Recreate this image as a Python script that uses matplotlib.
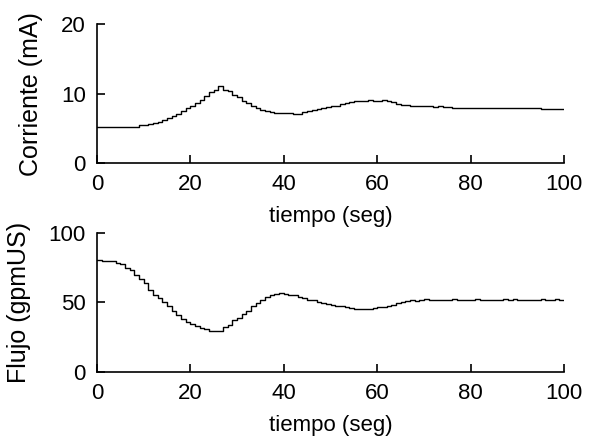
import numpy as np
import matplotlib
matplotlib.use('Agg')
from matplotlib import pyplot as plt

# tiempo en segundos, una muestra por segundo
tiempo = np.arange(0, 101)

corriente = [5.2, 5.2, 5.2, 5.2, 5.2, 5.2, 5.2, 5.2, 5.2, 5.5,
             5.5, 5.6, 5.8, 5.9, 6.2, 6.5, 6.8, 7.1, 7.5, 7.9,
             8.2, 8.6, 9.1, 9.7, 10.3, 10.6, 11.1, 10.5, 10.4, 9.8,
             9.5, 9.0, 8.6, 8.2, 7.9, 7.7, 7.5, 7.3, 7.2, 7.2,
             7.2, 7.2, 7.1, 7.1, 7.3, 7.5, 7.6, 7.8, 7.9, 8.1,
             8.3, 8.3, 8.5, 8.6, 8.8, 8.9, 8.9, 9.0, 9.1, 8.9,
             9.0, 9.1, 9.0, 8.8, 8.5, 8.4, 8.4, 8.3, 8.3, 8.2,
             8.3, 8.2, 8.1, 8.2, 8.1, 8.1, 8.0, 8.0, 8.0, 8.0,
             8.0, 7.9, 8.0, 8.0, 7.9, 8.0, 7.9, 7.9, 8.0, 7.9,
             7.9, 7.9, 8.0, 7.9, 7.9, 7.8, 7.8, 7.8, 7.8, 7.8,
             7.8]

flujo = [80.6, 80.0, 80.0, 79.5, 78.6, 77.5, 75.0, 73.0, 70.0, 67.0,
         64.0, 59.0, 55.0, 53.0, 50.0, 47.0, 44.0, 41.0, 38.0, 36.0,
         34.5, 33.0, 31.5, 30.5, 29.0, 29.0, 29.0, 32.0, 34.0, 37.0,
         39.0, 41.5, 44.0, 47.0, 49.5, 51.5, 53.5, 55.0, 56.0, 56.5,
         56.0, 55.5, 55.5, 54.0, 53.0, 52.0, 51.5, 50.0, 49.5, 48.5,
         48.0, 47.5, 47.0, 46.5, 46.0, 45.5, 45.0, 45.5, 45.0, 46.0,
         46.5, 46.5, 47.5, 48.0, 49.5, 50.5, 51.0, 51.5, 51.0, 52.0,
         52.5, 52.0, 52.0, 51.5, 52.0, 52.0, 52.5, 52.0, 51.5, 52.0,
         52.0, 52.5, 52.0, 52.0, 51.5, 52.0, 52.0, 52.5, 52.0, 52.5,
         52.0, 52.0, 51.5, 52.0, 52.0, 52.5, 52.0, 52.0, 52.5, 52.0,
         52.0]

xticks = [0, 20, 40, 60, 80, 100]
yticks_corriente = [0, 10, 20]
yticks_flujo = [0, 50, 100]

plt.rcParams['font.family'] = ['Liberation Sans', 'DejaVu Sans']

fig = plt.figure(figsize=(5.95, 4.41), dpi=100)
ax1 = fig.add_axes([0.163, 0.630, 0.785, 0.315])
ax2 = fig.add_axes([0.163, 0.157, 0.785, 0.315])

paneles = [(ax1, corriente, yticks_corriente, 'Corriente (mA)'),
           (ax2, flujo, yticks_flujo, 'Flujo (gpmUS)')]

for ax, y, yt, etiqueta in paneles:
    ax.plot(tiempo, y, color='black', linewidth=1.0, drawstyle='steps-post')
    ax.set_xlim(0, 100)
    ax.set_ylim(yt[0], yt[-1])
    ax.set_xticks(xticks)
    ax.set_yticks(yt)
    ax.spines['top'].set_visible(False)
    ax.spines['right'].set_visible(False)
    for s in ('left', 'bottom'):
        ax.spines[s].set_linewidth(1.2)
    ax.tick_params(direction='in', length=6, width=1.2, pad=8, labelsize=16)
    ax.set_xlabel('tiempo (seg)', fontsize=16, labelpad=8)
    ax.set_ylabel(etiqueta, fontsize=18, labelpad=13)

fig.savefig('out.png', dpi=100)
